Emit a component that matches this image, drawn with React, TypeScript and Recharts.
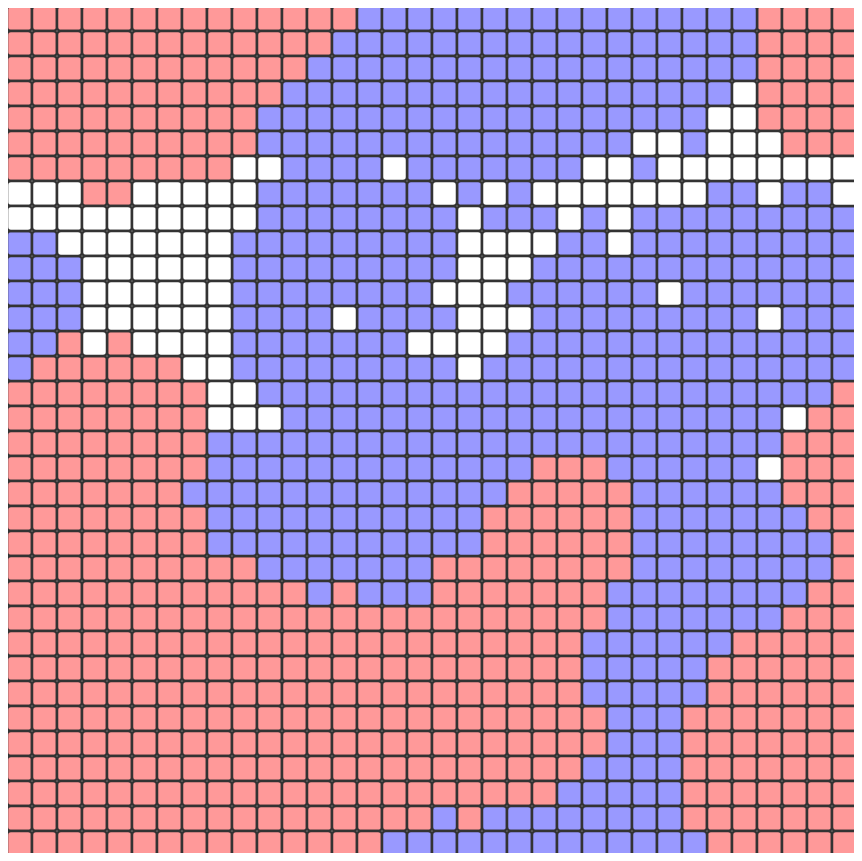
import React from 'react';
import { ScatterChart, Scatter, XAxis, YAxis } from 'recharts';

// one string per grid row, top to bottom: R = red, B = blue, W = empty
const gridRows: string[] = [
	'RRRRRRRRRRRRRRBBBBBBBBBBBBBBBBRRRR',
	'RRRRRRRRRRRRRBBBBBBBBBBBBBBBBBRRRR',
	'RRRRRRRRRRRRBBBBBBBBBBBBBBBBBBRRRR',
	'RRRRRRRRRRRBBBBBBBBBBBBBBBBBBWRRRR',
	'RRRRRRRRRRBBBBBBBBBBBBBBBBBBWWRRRR',
	'RRRRRRRRRRBBBBBBBBBBBBBBBWWBWWWRRR',
	'RRRRRRRRRWWBBBBWBBBBBBBWWBWWWWWWWW',
	'WWWRRWWWWWBBBBBBBWBWBWWWWWWWBBWBBW',
	'WWWWWWWWWWBBBBBBBBWBBBWBWBBBBBBBBB',
	'BBWWWWWWWBBBBBBBBBWWWWBBWBBBBBBBBB',
	'BBBWWWWWWBBBBBBBBBWWWBBBBBBBBBBBBB',
	'BBBWWWWWWBBBBBBBBWWWBBBBBBWBBBBBBB',
	'BBBWWWWWWBBBBWBBBBWWWBBBBBBBBBWBBB',
	'BBRWRWWWWBBBBBBBWWWWBBBBBBBBBBBBBB',
	'BRRRRRRWWBBBBBBBBBWBBBBBBBBBBBBBBB',
	'RRRRRRRRWWBBBBBBBBBBBBBBBBBBBBBBBR',
	'RRRRRRRRWWWBBBBBBBBBBBBBBBBBBBBWRR',
	'RRRRRRRRBBBBBBBBBBBBBBBBBBBBBBBRRR',
	'RRRRRRRRBBBBBBBBBBBBBRRRBBBBBBWRRR',
	'RRRRRRRBBBBBBBBBBBBBRRRRRBBBBBBRRR',
	'RRRRRRRRBBBBBBBBBBBRRRRRRBBBBBBBRR',
	'RRRRRRRRBBBBBBBBBBBRRRRRRBBBBBBBBR',
	'RRRRRRRRRRBBBBBBBRRRRRRRRBBBBBBBBR',
	'RRRRRRRRRRRRBRBBBRRRRRRRBBBBBBBBRR',
	'RRRRRRRRRRRRRRRRRRRRRRRRBBBBBBBRRR',
	'RRRRRRRRRRRRRRRRRRRRRRRBBBBBBRRRRR',
	'RRRRRRRRRRRRRRRRRRRRRRRBBBBBRRRRRR',
	'RRRRRRRRRRRRRRRRRRRRRRRBBBBBRRRRRR',
	'RRRRRRRRRRRRRRRRRRRRRRRRBBBRRRRRRR',
	'RRRRRRRRRRRRRRRRRRRRRRRRBBBRRRRRRR',
	'RRRRRRRRRRRRRRRRRRRRRRRBBBBRRRRRRR',
	'RRRRRRRRRRRRRRRRRRRRRRBBBBBRRRRRRR',
	'RRRRRRRRRRRRRRRRRBRBBBBBBBBRRRRRRR',
	'RRRRRRRRRRRRRRRBBBBBBBBBBBBBRRRRRR',
];

const states = ['R', 'B', 'W'];
const stateColors = ['#ff9999', '#9999ff', '#ffffff'];

const COLS = gridRows[0].length;
const ROWS = gridRows.length;
const WIDTH = 862;
const HEIGHT = 861;
const MARGIN = { top: 6, right: 5, bottom: 5, left: 7 };
const CELL = (WIDTH - MARGIN.left - MARGIN.right) / COLS;

function cellsFor(code: string) {
	const out: { x: number; y: number }[] = [];
	gridRows.forEach((row, r) => {
		row.split('').forEach((c, col) => {
			if (c === code) out.push({ x: col + 0.5, y: r + 0.5 });
		});
	});
	return out;
}

const Cell = (props: any) => {
	const { cx, cy, fill } = props;
	return (
		<rect
			x={cx - CELL / 2}
			y={cy - CELL / 2}
			width={CELL}
			height={CELL}
			rx={4}
			ry={4}
			fill={fill}
			stroke="#333333"
			strokeWidth={2.5}
		/>
	);
};

export default function App() {
	return (
		<div style={{ margin: -8, width: WIDTH, height: HEIGHT, background: '#fff' }}>
			<ScatterChart width={WIDTH} height={HEIGHT} margin={MARGIN}>
				<XAxis type="number" dataKey="x" domain={[0, COLS]} hide />
				<YAxis type="number" dataKey="y" domain={[0, ROWS]} reversed hide />
				{states.map((s, i) => (
					<Scatter
						key={s}
						data={cellsFor(s)}
						fill={stateColors[i]}
						shape={Cell}
						isAnimationActive={false}
					/>
				))}
			</ScatterChart>
		</div>
	);
}
